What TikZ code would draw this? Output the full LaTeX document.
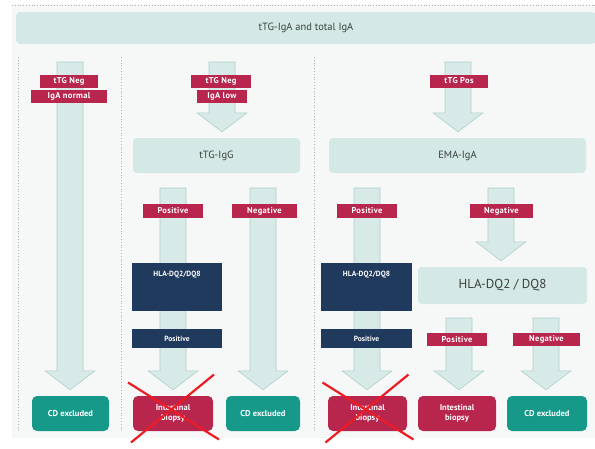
\documentclass[tikz,border=0pt]{standalone}
\usepackage{fontspec}
\setmainfont{PT Sans}
\usepackage{tikz}
\usetikzlibrary{calc, positioning, backgrounds}

\definecolor{paleteal}{HTML}{D4E9E5}
\definecolor{arrowfill}{HTML}{D7EAE7}
\definecolor{arrowline}{HTML}{AFCFCA}
\definecolor{crimson}{HTML}{B8264E}
\definecolor{jade}{HTML}{17998A}
\definecolor{navy}{HTML}{1F3A5C}
\definecolor{xred}{HTML}{EC1C24}
\definecolor{bgpaper}{HTML}{F6F8F8}
\definecolor{darktext}{HTML}{3A3F3F}

% block arrow from a start coordinate down to a node
\newcommand{\bigarrow}[2]{%
  \draw[bigarr] let \p1=(#1), \p2=(#2.north) in
    (\x1-13pt,\y1) -- (\x1-13pt,\y2+25pt) -- (\x1-25pt,\y2+25pt) -- (\x1,\y2+6pt)
    -- (\x1+25pt,\y2+25pt) -- (\x1+13pt,\y2+25pt) -- (\x1+13pt,\y1) -- cycle;}

% red cross over a box
\newcommand{\crossout}[1]{%
  \draw[xline] ($(#1)+(-45,-31)$) -- ($(#1)+(46,26)$);
  \draw[xline] ($(#1)+(41,-39)$) -- ($(#1)+(-42,29)$);}

\begin{document}
\begin{tikzpicture}[x=1pt, y=-1pt,
    tealbox/.style={fill=paleteal, rounded corners=4pt, text=darktext, inner sep=0pt, font=\fontsize{10.5}{12}\selectfont},
    tag/.style={fill=crimson, text=white, inner sep=0pt, minimum height=13pt, font=\fontsize{8.5}{9}\selectfont\bfseries\addfontfeatures{LetterSpace=4}},
    navybox/.style={fill=navy, text=white, inner sep=0pt, font=\fontsize{7.5}{8}\selectfont\bfseries},
    endbox/.style={rounded corners=5pt, text=white, inner sep=0pt, minimum height=35pt, align=center, font=\fontsize{8.5}{9.5}\selectfont\bfseries},
    bigarr/.style={fill=arrowfill, draw=arrowline, line width=0.6pt, line join=miter},
    sep/.style={draw=gray!60, dotted, line width=0.8pt},
    xline/.style={draw=xred, line width=2.2pt}]
    \useasboundingbox (0,0) rectangle (595,448);

    % top row
    \node (top) [tealbox, minimum width=580pt, minimum height=32pt] at (306,28) {tTG-IgA and total IgA};
    \node (neg1) [tag, minimum width=58pt] at (69,81) {tTG Neg};
    \node (norm1) [tag, minimum width=76pt] at (69,96) {IgA normal};
    \node (neg2) [tag, minimum width=60pt] at (221,81) {tTG Neg};
    \node (low2) [tag, minimum width=50pt] at (222,96) {IgA low};
    \node (pos3) [tag, minimum width=58pt] at (459,81) {tTG Pos};

    % second tests
    \node (igg) [tealbox, minimum width=167pt, minimum height=35pt] at (216.5,155.5) {tTG-IgG};
    \node (ema) [tealbox, minimum width=257pt, minimum height=35pt] at (457.5,155.5) {EMA-IgA};
    \node (iggpos) [tag, minimum width=60pt, minimum height=14pt] at (173,211) {Positive};
    \node (iggneg) [tag, minimum width=65pt, minimum height=14pt] at (264.5,211) {Negative};
    \node (emapos) [tag, minimum width=60pt, minimum height=14pt] at (367,211) {Positive};
    \node (emaneg) [tag, minimum width=63pt, minimum height=14pt] at (501.5,211) {Negative};

    % HLA typing
    \node (hlaL) [navybox, minimum width=90pt, minimum height=48pt,
        label={[anchor=center, yshift=-12pt, navybox]north:HLA-DQ2/DQ8}] at (177,287) {};
    \node (hlaM) [navybox, minimum width=91pt, minimum height=48pt,
        label={[anchor=center, yshift=-12pt, navybox]north:HLA-DQ2/DQ8}] at (366.5,287) {};
    \node (hlaposL) [navybox, minimum width=90pt, minimum height=19pt] at (177,338.5) {Positive};
    \node (hlaposM) [navybox, minimum width=91pt, minimum height=19pt] at (366.5,338.5) {Positive};
    \node (hlaR) [tealbox, minimum width=169pt, minimum height=37pt, font=\fontsize{13}{15}\selectfont] at (502.5,285.5) {HLA-DQ2 / DQ8};
    \node (hlapos) [tag, minimum width=60pt] at (457,339.5) {Positive};
    \node (hlaneg) [tag, minimum width=67pt] at (546.5,339.5) {Negative};

    % outcomes
    \node (cd1) [endbox, fill=jade, minimum width=77pt] at (70.5,413.5) {CD excluded};
    \node (bx2) [endbox, fill=crimson, minimum width=80pt] at (173,413.5) {Intestinal\\biopsy};
    \node (cd2) [endbox, fill=jade, minimum width=74pt] at (263,413.5) {CD excluded};
    \node (bx3) [endbox, fill=crimson, minimum width=79pt] at (367.5,413.5) {Intestinal\\biopsy};
    \node (bx4) [endbox, fill=crimson, minimum width=78pt] at (457,413.5) {Intestinal\\biopsy};
    \node (cd3) [endbox, fill=jade, minimum width=80pt] at (547,413.5) {CD excluded};

    \coordinate (s1) at (70,62);
    \coordinate (s2) at (222,62);
    \coordinate (s3) at (458,62);
    \coordinate (s4) at (173,188);
    \coordinate (s5) at (263,188);
    \coordinate (s6) at (367,188);
    \coordinate (s7) at (501,188);
    \coordinate (s8) at (459,318);
    \coordinate (s9) at (546,318);

    \begin{scope}[on background layer]
        \fill[white] (0,0) rectangle (595,448);
        \fill[bgpaper] (12,4) rectangle (595,438);
        \draw[sep] (12,5) -- (595,5);
        \draw[sep] (18,57) -- (18,432);
        \draw[sep] (121,57) -- (121,432);
        \draw[sep] (314,57) -- (314,432);
        \bigarrow{s1}{cd1}
        \bigarrow{s2}{igg}
        \bigarrow{s3}{ema}
        \bigarrow{s4}{bx2}
        \bigarrow{s5}{cd2}
        \bigarrow{s6}{bx3}
        \bigarrow{s7}{hlaR}
        \bigarrow{s8}{bx4}
        \bigarrow{s9}{cd3}
    \end{scope}

    \crossout{bx2}
    \crossout{bx3}
\end{tikzpicture}
\end{document}
